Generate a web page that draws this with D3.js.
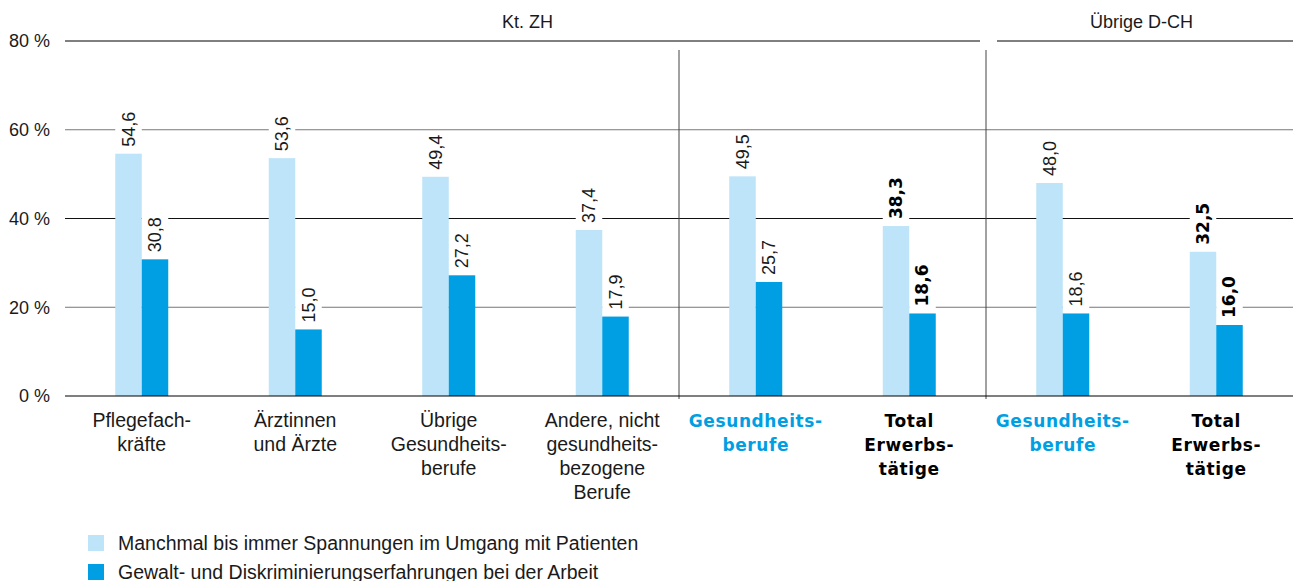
<!DOCTYPE html>
<html>
<head>
<meta charset="utf-8">
<script src="https://cdn.jsdelivr.net/npm/d3@7"></script>
<style>
  body { margin: 0; background: #fff; }
  svg text { font-family: "Helvetica Neue", "Liberation Sans", Arial, sans-serif; fill: #1a1a1a; }
  .bold { font-family: "DejaVu Sans", sans-serif !important; font-weight: bold; }
</style>
</head>
<body>
<div id="chart"></div>
<script>
// Data
var categoryLines = [
  ["Pflegefach-", "kräfte"],
  ["Ärztinnen", "und Ärzte"],
  ["Übrige", "Gesundheits-", "berufe"],
  ["Andere, nicht", "gesundheits-", "bezogene", "Berufe"],
  ["Gesundheits-", "berufe"],
  ["Total", "Erwerbs-", "tätige"],
  ["Gesundheits-", "berufe"],
  ["Total", "Erwerbs-", "tätige"]
];
// kind of label: plain, group (blue bold) or total (black bold)
var categoryKind = ["plain", "plain", "plain", "plain", "group", "total", "group", "total"];
var spannungen = [54.6, 53.6, 49.4, 37.4, 49.5, 38.3, 48.0, 32.5];
var gewalt = [30.8, 15.0, 27.2, 17.9, 25.7, 18.6, 18.6, 16.0];
var seriesNames = [
  "Manchmal bis immer Spannungen im Umgang mit Patienten",
  "Gewalt- und Diskriminierungserfahrungen bei der Arbeit"
];
var regions = [
  { name: "Kt. ZH", first: 0, last: 5 },
  { name: "Übrige D-CH", first: 6, last: 7 }
];
var separators = [4, 6];
var yTicks = [0, 20, 40, 60, 80];

var colors = ["#bde4f8", "#009fe3"];

var svgWidth = 1293, svgHeight = 581;
var svg = d3.select("#chart").append("svg")
  .attr("width", svgWidth)
  .attr("height", svgHeight);

// scales
var x = d3.scaleBand()
  .domain(d3.range(categoryLines.length))
  .range([65, 1293])
  .padding(0);
var barW = 26.5;
var xSeries = d3.scaleBand()
  .domain([0, 1])
  .range([-barW, barW]);
var y = d3.scaleLinear()
  .domain([0, 80])
  .range([396, 41]);

var fmt = function (v) { return d3.format(".1f")(v).replace(".", ","); };

// gridlines (0 and 80 are drawn separately)
svg.append("g").selectAll("line")
  .data(yTicks.filter(function (t) { return t > 0 && t < 80; }))
  .enter().append("line")
  .attr("x1", 65).attr("x2", 1293)
  .attr("y1", function (d) { return y(d); })
  .attr("y2", function (d) { return y(d); })
  .attr("stroke", function (d) { return d % 40 === 0 ? "#111" : "#777"; })
  .attr("stroke-width", 1);

// y tick labels
svg.append("g").selectAll("text")
  .data(yTicks)
  .enter().append("text")
  .attr("x", 50)
  .attr("y", function (d) { return y(d); })
  .attr("dy", "0.35em")
  .attr("text-anchor", "end")
  .style("font-size", "18px")
  .text(function (d) { return d + " %"; });

// region header lines and titles
regions.forEach(function (r, i) {
  var x0 = x(r.first) + (i > 0 ? 11 : 0);
  var x1 = x(r.last) + x.bandwidth() - (i < regions.length - 1 ? 6 : 0);
  svg.append("line")
    .attr("x1", x0).attr("x2", x1)
    .attr("y1", y(80)).attr("y2", y(80))
    .attr("stroke", "#000").attr("stroke-width", 1);
  svg.append("text")
    .attr("x", (x(r.first) + x(r.last) + x.bandwidth()) / 2 + 2)
    .attr("y", 28)
    .attr("text-anchor", "middle")
    .style("font-size", "18px")
    .text(r.name);
});

// vertical separators
svg.append("g").selectAll("line")
  .data(separators)
  .enter().append("line")
  .attr("x1", function (d) { return x(d); })
  .attr("x2", function (d) { return x(d); })
  .attr("y1", 50).attr("y2", 399)
  .attr("stroke", "#444").attr("stroke-width", 1);

// bar data
var bars = [];
categoryLines.forEach(function (c, i) {
  [spannungen[i], gewalt[i]].forEach(function (v, s) {
    bars.push({ cat: i, series: s, value: v, bold: categoryKind[i] === "total" });
  });
});

function barX(d) {
  return x(d.cat) + x.bandwidth() / 2 + xSeries(d.series);
}

// value labels with white background
var labelGap = 7;
var labels = svg.append("g").selectAll("g")
  .data(bars)
  .enter().append("g")
  .attr("transform", function (d) {
    return "translate(" + (barX(d) + barW / 2) + "," + (y(d.value) - labelGap) + ")";
  });

var labelBg = labels.append("rect").attr("fill", "#fff");

var labelText = labels.append("text")
  .attr("transform", "rotate(-90)")
  .attr("dy", "0.35em")
  .attr("text-anchor", "start")
  .classed("bold", function (d) { return d.bold; })
  .style("font-size", function (d) { return d.bold ? "17px" : "18px"; })
  .style("fill", function (d) { return d.bold ? "#000" : "#1a1a1a"; })
  .text(function (d) { return fmt(d.value); });

labelText.each(function (d) {
  var len = this.getComputedTextLength();
  d3.select(this.parentNode).select("rect")
    .attr("x", -barW / 2)
    .attr("width", barW)
    .attr("y", -len - 3)
    .attr("height", len + 5);
});

// bars
svg.append("g").selectAll("rect")
  .data(bars)
  .enter().append("rect")
  .attr("x", barX)
  .attr("width", barW)
  .attr("y", function (d) { return y(d.value); })
  .attr("height", function (d) { return y(0) - y(d.value); })
  .attr("fill", function (d) { return colors[d.series]; });

// zero axis line
svg.append("line")
  .attr("x1", 65).attr("x2", 1293)
  .attr("y1", y(0)).attr("y2", y(0))
  .attr("stroke", "#000").attr("stroke-width", 1.2);

// category labels
var catText = svg.append("g").selectAll("text")
  .data(categoryLines)
  .enter().append("text")
  .attr("x", function (d, i) { return x(i) + x.bandwidth() / 2; })
  .attr("y", 427)
  .attr("text-anchor", "middle")
  .classed("bold", function (d, i) { return categoryKind[i] !== "plain"; })
  .style("font-size", function (d, i) { return categoryKind[i] === "plain" ? "19.5px" : "17px"; })
  .style("fill", function (d, i) {
    return categoryKind[i] === "group" ? "#009fe3" : categoryKind[i] === "total" ? "#000" : "#1a1a1a";
  })
  .style("letter-spacing", function (d, i) { return categoryKind[i] === "plain" ? "0px" : "0.6px"; });

catText.selectAll("tspan")
  .data(function (d) { return d; })
  .enter().append("tspan")
  .attr("x", function () { return d3.select(this.parentNode).attr("x"); })
  .attr("dy", function (d, j) { return j === 0 ? 0 : 24; })
  .text(function (d) { return d; });

// legend
var legend = svg.append("g").selectAll("g")
  .data(seriesNames)
  .enter().append("g")
  .attr("transform", function (d, i) { return "translate(88," + (535 + i * 29) + ")"; });

legend.append("rect")
  .attr("width", 16).attr("height", 16)
  .attr("fill", function (d, i) { return colors[i]; });

legend.append("text")
  .attr("x", 30)
  .attr("y", 15)
  .style("font-size", "19.5px")
  .text(function (d) { return d; });
</script>
</body>
</html>
